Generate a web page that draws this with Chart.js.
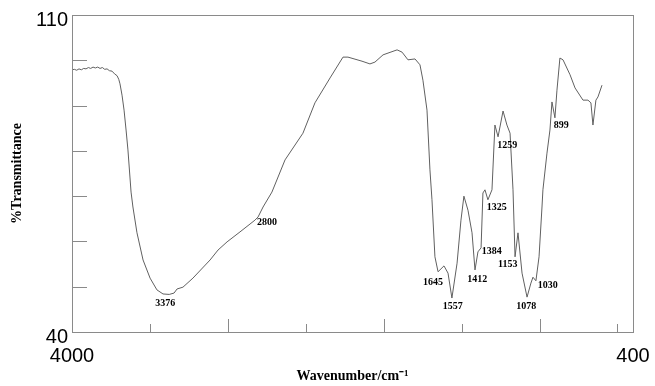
<!DOCTYPE html>
<html>
<head>
<meta charset="utf-8">
<script src="https://cdn.jsdelivr.net/npm/chart.js@4/dist/chart.umd.min.js"></script>
<style>
  body { margin: 0; background: #fff; }
</style>
</head>
<body>
<canvas id="myChart" width="655" height="386"></canvas>
<script>
// spectrum
var waveNumbers = [4000, 3985, 3970, 3955, 3940, 3925, 3910, 3895, 3880, 3865, 3850, 3835, 3820, 3805, 3790, 3775,
  3760, 3743, 3727, 3711, 3700, 3692, 3679, 3666, 3653, 3641, 3621, 3609, 3583, 3544, 3499, 3455, 3416, 3376, 3345,
  3326, 3288, 3224, 3114, 3063, 3005, 2922, 2826, 2806, 2774, 2717, 2633, 2518, 2441, 2344, 2261, 2229, 2139, 2088,
  2056, 2004, 1914, 1882, 1844, 1799, 1767, 1748, 1722, 1703, 1690, 1671, 1651, 1613, 1587, 1562, 1529, 1504, 1485,
  1459, 1433, 1414, 1395, 1375, 1363, 1350, 1331, 1305, 1286, 1266, 1234, 1209, 1189, 1170, 1157, 1138, 1112, 1080,
  1055, 1042, 1023, 1003, 984, 978, 952, 933, 920, 901, 888, 869, 849, 804, 772, 721, 689, 670, 657, 638, 625, 599];
var transmittance = [97.9, 98.0, 97.8, 98.1, 97.9, 98.2, 98.1, 98.4, 98.2, 98.5, 98.3, 98.5, 98.2, 98.4, 98.0, 98.1,
  97.7, 97.6, 97.0, 96.6, 95.8, 94.8, 92.3, 89.0, 84.6, 80.2, 70.9, 67.6, 61.9, 55.9, 51.9, 49.3, 48.4, 48.3, 48.6,
  49.5, 49.9, 51.9, 55.9, 58.1, 59.9, 62.1, 64.7, 65.4, 67.6, 70.9, 78.0, 83.9, 90.6, 96.1, 100.7, 100.7, 99.8, 99.2,
  99.6, 101.2, 102.3, 101.8, 100.1, 100.3, 99.0, 95.6, 89.0, 75.8, 69.2, 56.6, 53.3, 54.6, 53.0, 47.5, 55.2, 64.7, 70.0,
  66.9, 61.9, 53.7, 57.7, 58.6, 70.7, 71.4, 69.2, 71.4, 85.7, 83.1, 88.8, 85.7, 83.9, 71.4, 56.6, 61.9, 53.0, 47.7,
  50.8, 52.1, 51.3, 56.6, 67.6, 71.4, 79.5, 84.6, 90.8, 87.3, 93.4, 100.5, 100.1, 96.8, 93.9, 91.2, 91.2, 90.6, 85.7,
  91.2, 91.9, 94.5];

var peaks = [3376, 2800, 1645, 1557, 1412, 1384, 1325, 1259, 1153, 1078, 1030, 899];

var xTickLabels = [4000, 400];
var yTickLabels = [40, 110];

// where each peak label sits: pixel shift in x, transmittance level in y
var peakDx = [-4, 8, -6, 0, 2, 12, 8, 8, -8, -1, 13, 6];
var peakLabelY = [46.4, 64.1, 51.0, 45.7, 51.7, 57.9, 67.6, 81.1, 55.0, 45.7, 50.2, 85.7];

var points = [];
for (var i = 0; i < waveNumbers.length; i++) {
    points.push({x: waveNumbers[i], y: transmittance[i]});
}

// frame, inward tick marks and peak labels
var decorations = {
    id: 'decorations',
    afterDraw: function(chart) {
        var ctx = chart.ctx;
        var a = chart.chartArea;
        var xs = chart.scales.x;
        var ys = chart.scales.y;
        ctx.save();
        ctx.strokeStyle = '#8a8a8a';
        ctx.lineWidth = 1;
        ctx.strokeRect(Math.round(a.left) + 0.5, Math.round(a.top) + 0.5,
                       Math.round(a.width), Math.round(a.height));

        ctx.beginPath();
        for (var v = 50; v <= 100; v += 10) {
            var py = Math.round(ys.getPixelForValue(v)) + 0.5;
            ctx.moveTo(a.left, py);
            ctx.lineTo(a.left + 15, py);
        }
        for (var w = 500; w <= 3500; w += 500) {
            var px = Math.round(xs.getPixelForValue(w)) + 0.5;
            ctx.moveTo(px, a.bottom);
            ctx.lineTo(px, a.bottom - (w % 1000 == 0 ? 13 : 8));
        }
        ctx.stroke();

        ctx.fillStyle = '#000';
        ctx.font = 'bold 10px "Liberation Serif", "Times New Roman", serif';
        ctx.textAlign = 'center';
        ctx.textBaseline = 'middle';
        for (var k = 0; k < peaks.length; k++) {
            ctx.fillText(String(peaks[k]),
                xs.getPixelForValue(peaks[k]) + peakDx[k],
                ys.getPixelForValue(peakLabelY[k]));
        }
        ctx.restore();
    }
};

var ctx = document.getElementById('myChart').getContext('2d');
var chart = new Chart(ctx, {
    type: 'line',
    data: {
        datasets: [{
            data: points,
            borderColor: '#606060',
            borderWidth: 1,
            pointRadius: 0,
            tension: 0,
            fill: false
        }]
    },
    options: {
        responsive: false,
        animation: false,
        events: [],
        layout: { padding: { top: 15, right: 22, left: 0, bottom: 0 } },
        plugins: { legend: { display: false }, tooltip: { enabled: false } },
        scales: {
            x: {
                type: 'linear',
                reverse: true,
                min: 400,
                max: 4000,
                afterBuildTicks: function(scale) {
                    scale.ticks = xTickLabels.map(function(v) { return {value: v}; });
                },
                afterFit: function(scale) {
                    scale.height = 54;
                    scale.paddingLeft = 0;
                    scale.paddingRight = 0;
                },
                ticks: {
                    autoSkip: false,
                    maxRotation: 0,
                    padding: 12,
                    color: '#000',
                    callback: function(v) { return String(v); },
                    font: { family: '"Liberation Sans", Arial, sans-serif', size: 20 }
                },
                grid: { display: false, drawTicks: false },
                border: { display: false },
                title: {
                    display: true,
                    text: 'Wavenumber/cm\u207B\u00B9',
                    color: '#000',
                    padding: { top: 0, bottom: 1 },
                    font: { family: '"Liberation Serif", "Times New Roman", serif', size: 14, weight: 'bold' }
                }
            },
            y: {
                min: 40,
                max: 110,
                afterBuildTicks: function(scale) {
                    scale.ticks = yTickLabels.map(function(v) { return {value: v}; });
                },
                afterFit: function(scale) {
                    scale.width = 72;
                    scale.paddingTop = 0;
                    scale.paddingBottom = 0;
                },
                ticks: {
                    padding: 4,
                    labelOffset: 5,
                    color: '#000',
                    font: { family: '"Liberation Sans", Arial, sans-serif', size: 20 }
                },
                grid: { display: false, drawTicks: false },
                border: { display: false },
                title: {
                    display: true,
                    text: '%Transmittance',
                    color: '#000',
                    padding: { top: 9, bottom: 0 },
                    font: { family: '"Liberation Serif", "Times New Roman", serif', size: 14, weight: 'bold' }
                }
            }
        }
    },
    plugins: [decorations]
});
</script>
</body>
</html>
